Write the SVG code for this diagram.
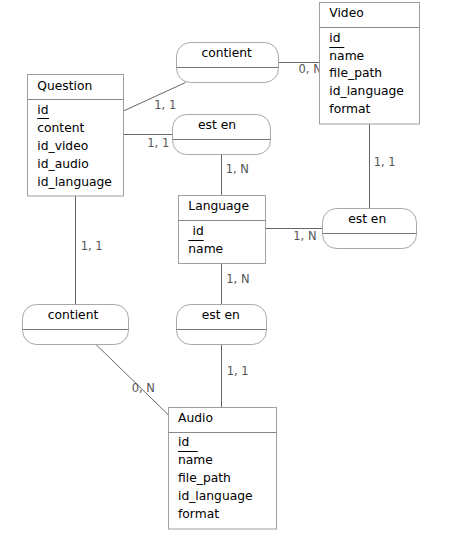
<svg xmlns="http://www.w3.org/2000/svg" width="449" height="559" viewBox="0 0 449 559">
<style>
text{font-family:"DejaVu Sans","Liberation Sans",sans-serif;font-size:12.3px;fill:#000}
.ent{fill:#fff;stroke:#a0a0a0;stroke-width:1}
.sep{stroke:#888;stroke-width:1}
.rel{fill:#fff;stroke:#a8a8a8;stroke-width:1}
.rsep{stroke:#777;stroke-width:1}
.ul{stroke:#000;stroke-width:1}
.c{stroke:#666;stroke-width:1;fill:none}
.lbl{font-size:11.5px;fill:#555}
.mid{text-anchor:middle}
</style>
<rect width="449" height="559" fill="#fff"/>
<g id="connectors">
<line class="c" x1="278.5" y1="62.5" x2="320" y2="62.5"/>
<line class="c" x1="123.5" y1="111" x2="185.5" y2="82.5"/>
<line class="c" x1="123.5" y1="134.5" x2="172.5" y2="134.5"/>
<line class="c" x1="221.5" y1="154.5" x2="221.5" y2="195.5"/>
<line class="c" x1="369.5" y1="124" x2="369.5" y2="208.5"/>
<line class="c" x1="265.5" y1="228.5" x2="322.5" y2="228.5"/>
<line class="c" x1="75.5" y1="196" x2="75.5" y2="304.5"/>
<line class="c" x1="221.5" y1="263.5" x2="221.5" y2="304.5"/>
<line class="c" x1="221.5" y1="344.5" x2="221.5" y2="407.5"/>
<line class="c" x1="96" y1="344.5" x2="168.5" y2="415"/>
<text class="lbl" x="298.5" y="72.7">0, N</text>
<text class="lbl" x="154.3" y="109.3">1, 1</text>
<text class="lbl" x="147.3" y="146.7">1, 1</text>
<text class="lbl" x="225.7" y="173.3">1, N</text>
<text class="lbl" x="373.7" y="165.7">1, 1</text>
<text class="lbl" x="293.3" y="240">1, N</text>
<text class="lbl" x="80.7" y="250">1, 1</text>
<text class="lbl" x="226.3" y="283.3">1, N</text>
<text class="lbl" x="226.7" y="375">1, 1</text>
<text class="lbl" x="131.7" y="391.7">0, N</text>
</g>
<g id="Question">
<rect class="ent" x="27.5" y="74.5" width="96" height="121.5"/>
<line class="sep" x1="27.5" y1="99.5" x2="123.5" y2="99.5"/>
<text x="37.3" y="89.5">Question</text>
<text x="37.3" y="113.5">id</text>
<line class="ul" x1="37.3" y1="118.5" x2="49" y2="118.5"/>
<text x="37.3" y="131.7">content</text>
<text x="37.3" y="149.7">id_video</text>
<text x="37.3" y="168">id_audio</text>
<text x="37.3" y="186">id_language</text>
</g>
<g id="Video">
<rect class="ent" x="319.5" y="2.5" width="100" height="121.5"/>
<line class="sep" x1="319.5" y1="27.5" x2="419.5" y2="27.5"/>
<text x="329.3" y="16.7">Video</text>
<text x="329.3" y="41.7">id</text>
<line class="ul" x1="329.3" y1="47.5" x2="344.3" y2="47.5"/>
<text x="329.3" y="59.5">name</text>
<text x="329.3" y="77.3">file_path</text>
<text x="329.3" y="95.3">id_language</text>
<text x="329.3" y="113.3">format</text>
</g>
<g id="Language">
<rect class="ent" x="178.5" y="195.5" width="87" height="68"/>
<line class="sep" x1="178.5" y1="220.5" x2="265.5" y2="220.5"/>
<text x="188.3" y="210">Language</text>
<text x="192.5" y="235">id</text>
<line class="ul" x1="188.3" y1="240.5" x2="203.7" y2="240.5"/>
<text x="188.3" y="253.3">name</text>
</g>
<g id="Audio">
<rect class="ent" x="168.5" y="407.5" width="108" height="121.5"/>
<line class="sep" x1="168.5" y1="432.5" x2="276.5" y2="432.5"/>
<text x="178" y="422.3">Audio</text>
<text x="178" y="446">id</text>
<line class="ul" x1="178" y1="451.5" x2="197.7" y2="451.5"/>
<text x="178" y="464.3">name</text>
<text x="178" y="482.3">file_path</text>
<text x="178" y="500.3">id_language</text>
<text x="178" y="518.3">format</text>
</g>
<g id="contient_video">
<rect class="rel" x="176.5" y="42.5" width="102" height="40" rx="14" ry="14"/>
<line class="rsep" x1="176.5" y1="67.5" x2="278.5" y2="67.5"/>
<text class="mid" x="226.7" y="56.7">contient</text>
</g>
<g id="esten_question">
<rect class="rel" x="172.5" y="114.5" width="98" height="40" rx="14" ry="14"/>
<line class="rsep" x1="172.5" y1="139.5" x2="270.5" y2="139.5"/>
<text class="mid" x="217" y="129.3">est en</text>
</g>
<g id="esten_video">
<rect class="rel" x="322.5" y="208.5" width="94" height="40" rx="14" ry="14"/>
<line class="rsep" x1="322.5" y1="233.5" x2="416.5" y2="233.5"/>
<text class="mid" x="367.2" y="222.7">est en</text>
</g>
<g id="contient_audio">
<rect class="rel" x="22.5" y="304.5" width="106" height="40" rx="14" ry="14"/>
<line class="rsep" x1="22.5" y1="329.5" x2="128.5" y2="329.5"/>
<text class="mid" x="73" y="319.3">contient</text>
</g>
<g id="esten_audio">
<rect class="rel" x="176.5" y="304.5" width="90" height="40" rx="14" ry="14"/>
<line class="rsep" x1="176.5" y1="329.5" x2="266.5" y2="329.5"/>
<text class="mid" x="220.8" y="319.3">est en</text>
</g>
</svg>
